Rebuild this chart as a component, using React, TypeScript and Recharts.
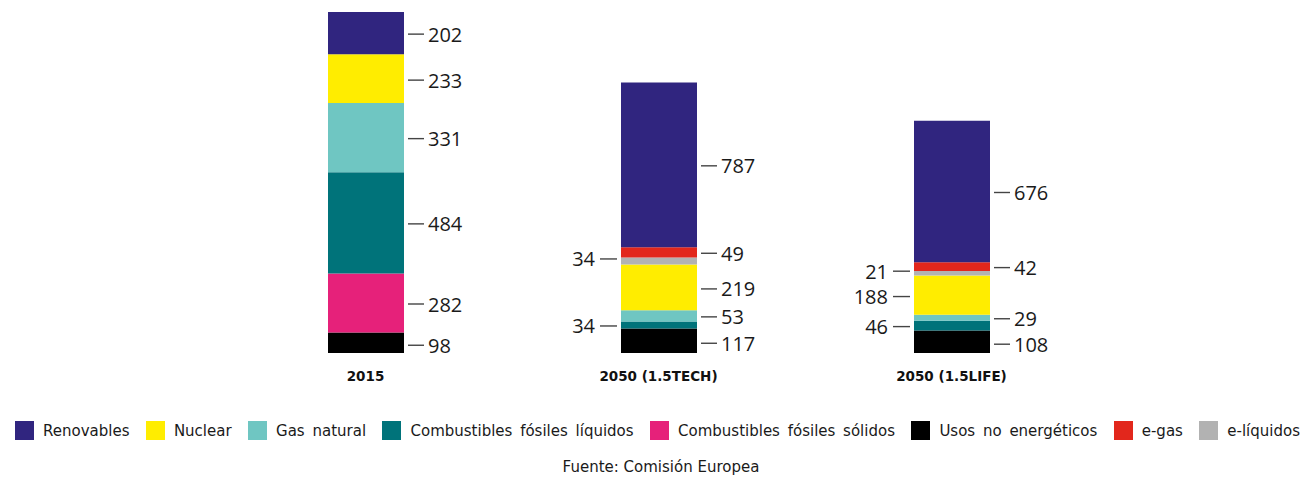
import { BarChart, Bar, XAxis, YAxis, LabelList } from 'recharts'

const categories = ['2015', '2050 (1.5TECH)', '2050 (1.5LIFE)']

const usosNoEnergeticos = [98, 117, 108]
const fosilesSolidos = [282, 0, 0]
const fosilesLiquidos = [484, 34, 46]
const gasNatural = [331, 53, 29]
const nuclear = [233, 219, 188]
const eLiquidos = [0, 34, 21]
const eGas = [0, 49, 42]
const renovables = [202, 787, 676]

const FONT = '"DejaVu Sans", Verdana, sans-serif'
const LABEL_FONT = '"Open Sans", sans-serif'

// stack order, bottom to top; side = where the value label sits for each bar
const series = [
  { key: 'usos', name: 'Usos no energéticos', values: usosNoEnergeticos, color: '#000000', side: ['right', 'right', 'right'] },
  { key: 'solidos', name: 'Combustibles fósiles sólidos', values: fosilesSolidos, color: '#e6217a', side: ['right', 'right', 'right'] },
  { key: 'liquidos', name: 'Combustibles fósiles líquidos', values: fosilesLiquidos, color: '#00737a', side: ['right', 'left', 'left'] },
  { key: 'gas', name: 'Gas natural', values: gasNatural, color: '#6fc6c2', side: ['right', 'right', 'right'] },
  { key: 'nuclear', name: 'Nuclear', values: nuclear, color: '#ffed00', side: ['right', 'right', 'left'] },
  { key: 'eliq', name: 'e-líquidos', values: eLiquidos, color: '#b2b2b2', side: ['left', 'left', 'left'] },
  { key: 'egas', name: 'e-gas', values: eGas, color: '#e2271c', side: ['right', 'right', 'right'] },
  { key: 'renov', name: 'Renovables', values: renovables, color: '#30257f', side: ['right', 'right', 'right'] },
]

// small vertical nudges so the labels of thin segments don't collide
const nudge: Record<string, number> = { usos: 2.5, gas: 1, eliq: -2, nuclear: 1.5 }

const legendOrder = ['renov', 'nuclear', 'gas', 'liquidos', 'solidos', 'usos', 'egas', 'eliq']

const data = categories.map((c, i) => {
  const row: Record<string, string | number> = { name: c }
  series.forEach((s) => (row[s.key] = s.values[i]))
  return row
})

const makeLabel = (sides: string[], dy: number) => (props: any) => {
  const { x, y, width, height, value, index } = props
  if (!value) return null
  const cy = Number(y) + Number(height) / 2 + dy
  const side = sides[index]
  if (side === 'left') {
    const lx = Number(x)
    return (
      <g>
        <line x1={lx - 21} x2={lx - 4} y1={cy} y2={cy} stroke="#444" strokeWidth={1.4} />
        <text x={lx - 26} y={cy} textAnchor="end" dominantBaseline="central" fontSize={20} fontFamily={LABEL_FONT} fill="#1a1a1a">
          {value}
        </text>
      </g>
    )
  }
  const rx = Number(x) + Number(width)
  return (
    <g>
      <line x1={rx + 4} x2={rx + 20} y1={cy} y2={cy} stroke="#444" strokeWidth={1.4} />
      <text x={rx + 24} y={cy} textAnchor="start" dominantBaseline="central" fontSize={20} fontFamily={LABEL_FONT} fill="#1a1a1a">
        {value}
      </text>
    </g>
  )
}

export default function App() {
  return (
    <div style={{ position: 'absolute', left: 0, top: 0, width: 1303, height: 479, background: '#fff', fontFamily: FONT }}>
      <BarChart width={1303} height={400} data={data} margin={{ top: 12, right: 205, bottom: 17, left: 219 }} barSize={76}>
        <XAxis
          dataKey="name"
          axisLine={false}
          tickLine={false}
          height={30}
          tickMargin={12}
          tick={{ fontSize: 13.5, fontWeight: 'bold', fill: '#111', fontFamily: FONT }}
        />
        <YAxis hide domain={[0, 1630]} />
        {series.map((s) => (
          <Bar key={s.key} dataKey={s.key} stackId="a" fill={s.color} isAnimationActive={false}>
            <LabelList dataKey={s.key} content={makeLabel(s.side, nudge[s.key] ?? 1)} />
          </Bar>
        ))}
      </BarChart>
      <div
        style={{
          position: 'absolute',
          left: 15,
          top: 421,
          width: 1285,
          display: 'flex',
          justifyContent: 'space-between',
          alignItems: 'center',
          fontSize: 15,
          color: '#1a1a1a',
          wordSpacing: 3,
        }}
      >
        {legendOrder.map((k) => {
          const s = series.find((x) => x.key === k)!
          return (
            <div key={k} style={{ display: 'flex', alignItems: 'center', whiteSpace: 'nowrap' }}>
              <span style={{ display: 'inline-block', width: 19, height: 19, background: s.color, marginRight: 9 }} />
              <span>{s.name}</span>
            </div>
          )
        })}
      </div>
      <div style={{ position: 'absolute', left: 0, top: 458, width: 1322, textAlign: 'center', fontSize: 15, color: '#1a1a1a' }}>
        Fuente: Comisión Europea
      </div>
    </div>
  )
}
